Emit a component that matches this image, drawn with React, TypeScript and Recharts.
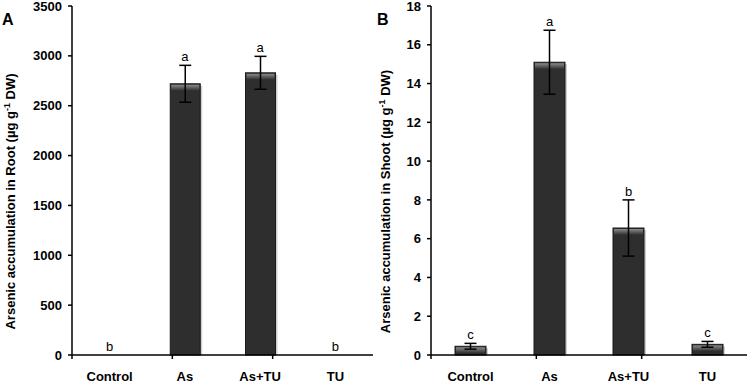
import { ComposedChart, Bar, Line, XAxis, YAxis, ErrorBar, LabelList } from 'recharts'

const categories = ['Control', 'As', 'As+TU', 'TU']
const rootMean = [0, 2720, 2830, 0]
const rootSd = [0, 185, 165, 0]
const rootLetters = ['b', 'a', 'a', 'b']
const rootTicks = [0, 500, 1000, 1500, 2000, 2500, 3000, 3500]
const shootMean = [0.45, 15.1, 6.55, 0.55]
const shootSd = [0.15, 1.65, 1.45, 0.15]
const shootLetters = ['c', 'a', 'b', 'c']
const shootTicks = [0, 2, 4, 6, 8, 10, 12, 14, 16, 18]
const edgeTicks = [0, 1, 2, 3, 4]

const FONT = '"Liberation Sans", Arial, sans-serif'

const build = (mean: number[], sd: number[], letters: string[]) =>
  categories.map((name, i) => ({
    name,
    mean: mean[i],
    sd: sd[i],
    top: mean[i] + sd[i],
    letter: letters[i],
  }))

const rootData = build(rootMean, rootSd, rootLetters)
const shootData = build(shootMean, shootSd, shootLetters)

const BevelBar = (props: any) => {
  const { x, y, width, height, gid } = props
  if (!height || height <= 0) return null
  return (
    <g>
      <rect x={x + width} y={y + 2} width={2} height={height - 2} fill="#cfcfcf" />
      <rect x={x} y={y} width={width} height={height} fill="#2e2e2e" stroke="#1a1a1a" strokeWidth={1} />
      <rect x={x + 1} y={y + 1} width={width - 2} height={Math.min(6, height - 1)} fill={`url(#${gid})`} />
    </g>
  )
}

const AxisTitle = (props: any) => {
  const { viewBox, label } = props
  const cx = viewBox.x + 15
  const cy = viewBox.y + viewBox.height / 2 + 21
  return (
    <text
      x={cx}
      y={cy}
      transform={`rotate(-90 ${cx} ${cy})`}
      textAnchor="middle"
      fontFamily={FONT}
      fontWeight="bold"
      fontSize={13}
      fill="#000"
    >
      {`Arsenic accumulation in ${label} (µg g`}
      <tspan dy={-5} fontSize={9}>-1</tspan>
      <tspan dy={5}> DW)</tspan>
    </text>
  )
}

function Panel(props: {
  data: any[]
  ticks: number[]
  max: number
  label: string
  letter: string
  yWidth: number
  width: number
  gid: string
  barSize: number
}) {
  const { data, ticks, max, label, letter, yWidth, width, gid, barSize } = props
  return (
    <div style={{ position: 'relative', width, height: 383 }}>
      <ComposedChart
        width={width}
        height={383}
        data={data}
        margin={{ top: 6, right: 2, left: 0, bottom: 0 }}
      >
        <defs>
          <linearGradient id={gid} x1="0" y1="0" x2="0" y2="1">
            <stop offset="0%" stopColor="#8a8a8a" />
            <stop offset="100%" stopColor="#2e2e2e" />
          </linearGradient>
        </defs>
        <XAxis
          xAxisId="b_cat"
          dataKey="name"
          height={27}
          axisLine={false}
          tickLine={false}
          tickSize={0}
          tickMargin={16}
          interval={0}
          tick={{ fill: '#000', fontFamily: FONT, fontWeight: 'bold', fontSize: 13 }}
        />
        <XAxis
          xAxisId="a_edge"
          type="number"
          domain={[0, 4]}
          ticks={edgeTicks}
          height={1}
          tickSize={4}
          tick={() => <g />}
          axisLine={{ stroke: '#000', strokeWidth: 1.5 }}
          tickLine={{ stroke: '#000', strokeWidth: 1.5 }}
        />
        <YAxis
          width={yWidth}
          domain={[0, max]}
          ticks={ticks}
          interval={0}
          tickSize={4}
          tickMargin={6}
          axisLine={{ stroke: '#000', strokeWidth: 1.5 }}
          tickLine={{ stroke: '#000', strokeWidth: 1.5 }}
          tick={{ fill: '#000', fontFamily: FONT, fontWeight: 'bold', fontSize: 13 }}
          label={<AxisTitle label={label} />}
        />
        <Bar
          xAxisId="b_cat"
          dataKey="mean"
          barSize={barSize}
          isAnimationActive={false}
          shape={(p: any) => <BevelBar {...p} gid={gid} />}
        >
          <ErrorBar dataKey="sd" width={6} stroke="#000" strokeWidth={1.5} direction="y" />
        </Bar>
        <Line
          xAxisId="b_cat"
          dataKey="top"
          stroke="none"
          dot={false}
          activeDot={false}
          isAnimationActive={false}
        >
          <LabelList
            dataKey="letter"
            content={(p: any) => (
              <text
                x={p.x}
                y={p.y - 4}
                textAnchor="middle"
                fontFamily={FONT}
                fontSize={13}
                fill="#000"
              >
                {p.value}
              </text>
            )}
          />
        </Line>
      </ComposedChart>
      <div
        style={{
          position: 'absolute',
          left: 2,
          top: 10,
          fontFamily: FONT,
          fontWeight: 'bold',
          fontSize: 16,
          lineHeight: '20px',
        }}
      >
        {letter}
      </div>
    </div>
  )
}

export default function App() {
  return (
    <div
      style={{
        position: 'absolute',
        left: 0,
        top: 0,
        width: 749,
        height: 383,
        background: '#fff',
        display: 'flex',
      }}
    >
      <Panel data={rootData} ticks={rootTicks} max={3500} label="Root" letter="A" yWidth={72} width={375} gid="bevA" barSize={30} />
      <Panel data={shootData} ticks={shootTicks} max={18} label="Shoot" letter="B" yWidth={56} width={374} gid="bevB" barSize={31} />
    </div>
  )
}
